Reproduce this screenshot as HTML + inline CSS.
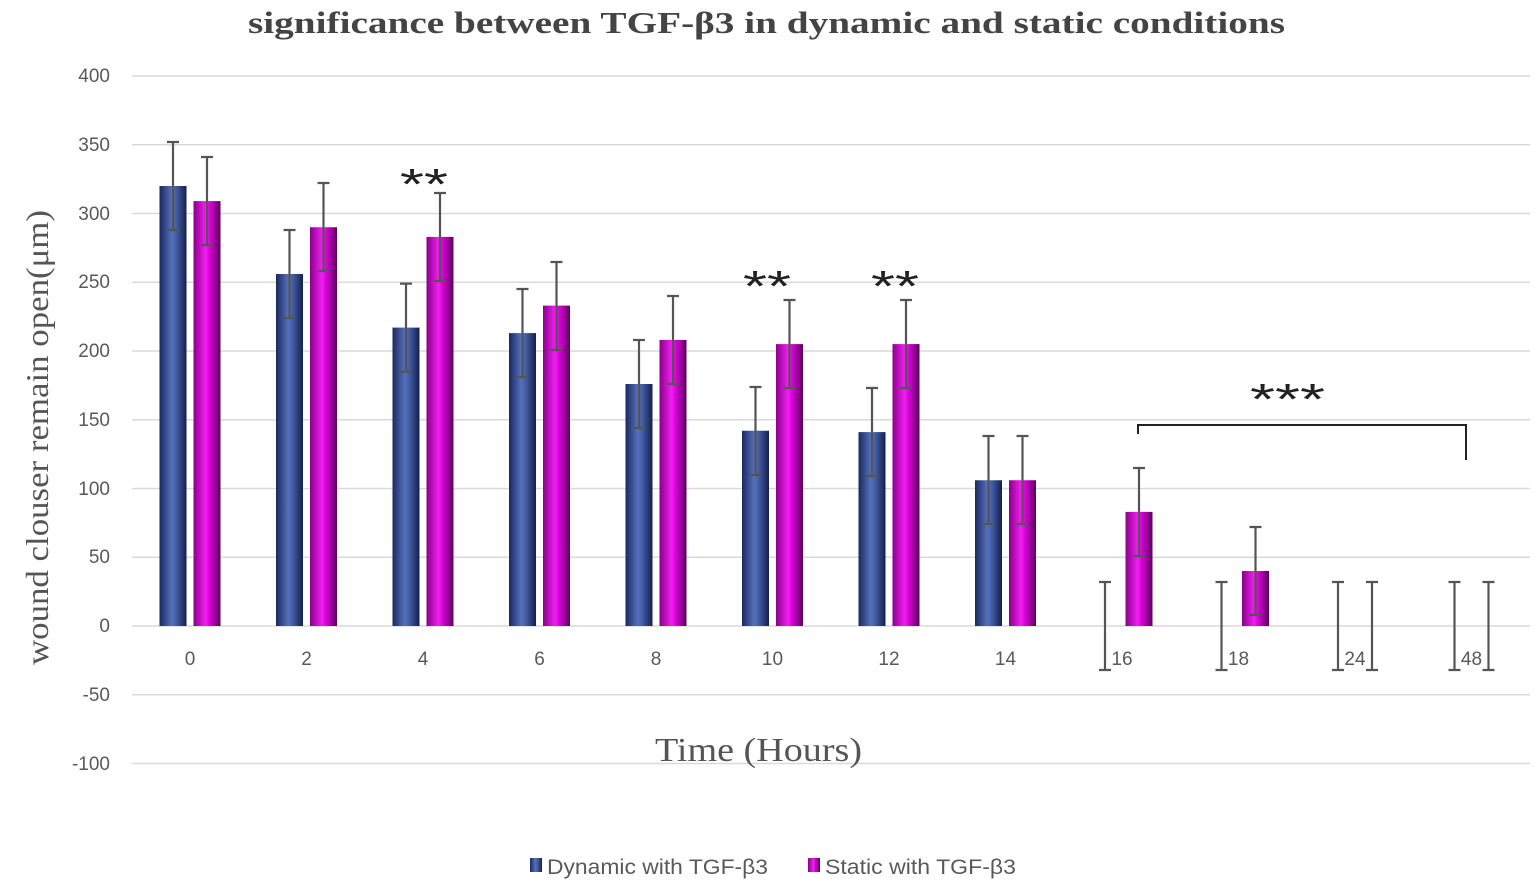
<!DOCTYPE html>
<html><head><meta charset="utf-8"><style>
body{margin:0;background:#fff}
svg{display:block}
</style></head><body>
<svg width="1535" height="888" xmlns="http://www.w3.org/2000/svg">
<defs>
<linearGradient id="gb" x1="0" x2="1" y1="0" y2="0">
<stop offset="0" stop-color="#1a2860"/><stop offset="0.45" stop-color="#5570bb"/><stop offset="0.6" stop-color="#4660a8"/><stop offset="1" stop-color="#141f4d"/></linearGradient>
<linearGradient id="gm" x1="0" x2="1" y1="0" y2="0">
<stop offset="0" stop-color="#8a008a"/><stop offset="0.45" stop-color="#f020f0"/><stop offset="0.6" stop-color="#d800d8"/><stop offset="1" stop-color="#5a005a"/></linearGradient>
</defs>
<text x="248" y="33" textLength="1037" lengthAdjust="spacingAndGlyphs" font-family="Liberation Serif,serif" font-weight="bold" font-size="31" fill="#444">significance between TGF-β3 in dynamic and static conditions</text>
<g stroke="#d9d9d9" stroke-width="1.5">
<line x1="132" x2="1530" y1="76" y2="76"/><line x1="132" x2="1530" y1="144.75" y2="144.75"/><line x1="132" x2="1530" y1="213.5" y2="213.5"/><line x1="132" x2="1530" y1="282.25" y2="282.25"/><line x1="132" x2="1530" y1="351" y2="351"/><line x1="132" x2="1530" y1="419.75" y2="419.75"/><line x1="132" x2="1530" y1="488.5" y2="488.5"/><line x1="132" x2="1530" y1="557.25" y2="557.25"/><line x1="132" x2="1530" y1="626" y2="626"/><line x1="132" x2="1530" y1="694.75" y2="694.75"/><line x1="132" x2="1530" y1="763.5" y2="763.5"/>
</g>
<g font-family="Liberation Sans,sans-serif" font-size="19" fill="#595959" text-anchor="end">
<text x="110" y="82">400</text><text x="110" y="151">350</text><text x="110" y="220">300</text><text x="110" y="288">250</text><text x="110" y="357">200</text><text x="110" y="426">150</text><text x="110" y="495">100</text><text x="110" y="563">50</text><text x="110" y="632">0</text><text x="110" y="701">-50</text><text x="110" y="770">-100</text>
</g>
<g font-family="Liberation Sans,sans-serif" font-size="19" fill="#595959" text-anchor="middle">
<text x="190" y="665">0</text><text x="306.5" y="665">2</text><text x="423" y="665">4</text><text x="539.5" y="665">6</text><text x="656" y="665">8</text><text x="772.5" y="665">10</text><text x="889" y="665">12</text><text x="1005.5" y="665">14</text><text x="1122" y="665">16</text><text x="1238.5" y="665">18</text><text x="1355" y="665">24</text><text x="1471.5" y="665">48</text>
</g>
<g fill="url(#gb)">
<rect x="159.5" y="186" width="27" height="440"/><rect x="276" y="274" width="27" height="352"/><rect x="392.5" y="327.6" width="27" height="298.4"/><rect x="509" y="333.1" width="27" height="292.9"/><rect x="625.5" y="384" width="27" height="242"/><rect x="742" y="430.75" width="27" height="195.25"/><rect x="858.5" y="432.1" width="27" height="193.9"/><rect x="975" y="480.25" width="27" height="145.75"/>
</g>
<g fill="url(#gm)">
<rect x="193.5" y="201.1" width="27" height="424.9"/><rect x="310" y="227.25" width="27" height="398.75"/><rect x="426.5" y="236.9" width="27" height="389.1"/><rect x="543" y="305.6" width="27" height="320.4"/><rect x="659.5" y="340" width="27" height="286"/><rect x="776" y="344.1" width="27" height="281.9"/><rect x="892.5" y="344.1" width="27" height="281.9"/><rect x="1009" y="480.25" width="27" height="145.75"/><rect x="1125.5" y="511.9" width="27" height="114.1"/><rect x="1242" y="571" width="27" height="55"/>
</g>
<g stroke="#555" stroke-width="2.2" fill="none">
<path d="M173 142V230M167 142h12M167 230h12"/>
<path d="M289.5 230V318M283.5 230h12M283.5 318h12"/>
<path d="M406 283.6V371.6M400 283.6h12M400 371.6h12"/>
<path d="M522.5 289V377M516.5 289h12M516.5 377h12"/>
<path d="M639 340V428M633 340h12M633 428h12"/>
<path d="M755.5 387V475M749.5 387h12M749.5 475h12"/>
<path d="M872 388V476M866 388h12M866 476h12"/>
<path d="M988.5 436V524M982.5 436h12M982.5 524h12"/>
<path d="M1105 582V670M1099 582h12M1099 670h12"/>
<path d="M1221.5 582V670M1215.5 582h12M1215.5 670h12"/>
<path d="M1338 582V670M1332 582h12M1332 670h12"/>
<path d="M1454.5 582V670M1448.5 582h12M1448.5 670h12"/>
<path d="M207 157V245M201 157h12M201 245h12"/>
<path d="M323.5 183V271M317.5 183h12M317.5 271h12"/>
<path d="M440 193V281M434 193h12M434 281h12"/>
<path d="M556.5 262V350M550.5 262h12M550.5 350h12"/>
<path d="M673 296V384M667 296h12M667 384h12"/>
<path d="M789.5 300V388M783.5 300h12M783.5 388h12"/>
<path d="M906 300V388M900 300h12M900 388h12"/>
<path d="M1022.5 436V524M1016.5 436h12M1016.5 524h12"/>
<path d="M1139 468V556M1133 468h12M1133 556h12"/>
<path d="M1255.5 527V615M1249.5 527h12M1249.5 615h12"/>
<path d="M1372 582V670M1366 582h12M1366 670h12"/>
<path d="M1488.5 582V670M1482.5 582h12M1482.5 670h12"/>
</g>
<path d="M1138 434V425H1466V460" stroke="#222" stroke-width="2" fill="none"/>
<g font-family="Liberation Sans,sans-serif" font-size="44" fill="#222">
<text x="400" y="199" textLength="48" lengthAdjust="spacingAndGlyphs">**</text>
<text x="743" y="301" textLength="48" lengthAdjust="spacingAndGlyphs">**</text>
<text x="871" y="301" textLength="48" lengthAdjust="spacingAndGlyphs">**</text>
<text x="1250" y="414" textLength="75" lengthAdjust="spacingAndGlyphs">***</text>
</g>
<text x="655" y="761" textLength="207" lengthAdjust="spacingAndGlyphs" font-family="Liberation Serif,serif" font-size="34" fill="#555">Time (Hours)</text>
<text transform="translate(48,665) rotate(-90)" textLength="455" lengthAdjust="spacingAndGlyphs" font-family="Liberation Serif,serif" font-size="32" fill="#555">wound clouser remain open(μm)</text>
<rect x="530" y="858" width="12" height="14" fill="url(#gb)"/>
<text x="547" y="874" textLength="221" lengthAdjust="spacingAndGlyphs" font-family="Liberation Sans,sans-serif" font-size="21" fill="#595959">Dynamic with TGF-β3</text>
<rect x="808" y="858" width="12" height="14" fill="url(#gm)"/>
<text x="825" y="874" textLength="191" lengthAdjust="spacingAndGlyphs" font-family="Liberation Sans,sans-serif" font-size="21" fill="#595959">Static with TGF-β3</text>
</svg>
</body></html>
